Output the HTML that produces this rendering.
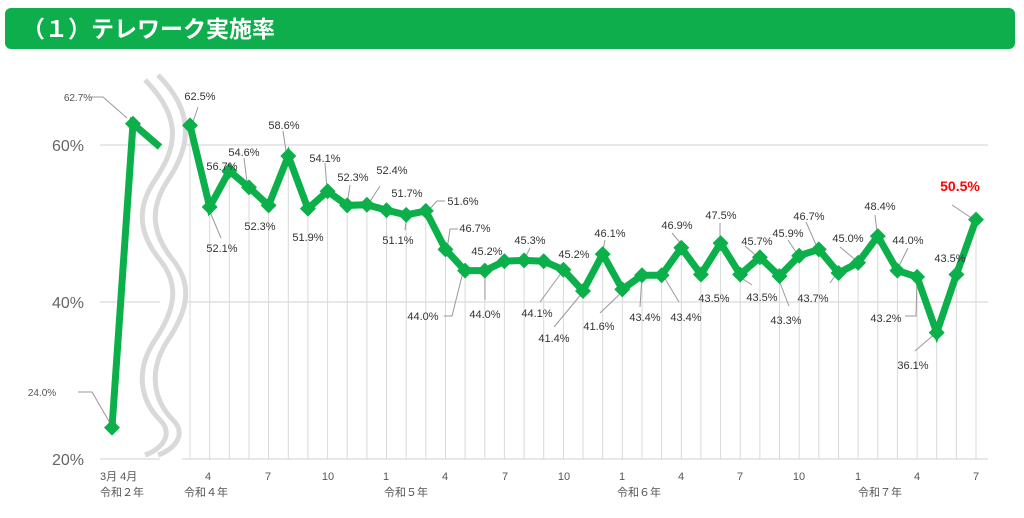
<!DOCTYPE html>
<html><head><meta charset="utf-8"><style>
body{margin:0;background:#fff;width:1024px;height:513px;overflow:hidden;font-family:"Liberation Sans","Noto Sans CJK JP",sans-serif}
</style></head><body>
<svg width="1024" height="513" xmlns="http://www.w3.org/2000/svg" font-family="Liberation Sans, Noto Sans CJK JP, sans-serif">
<defs><path id="dm" d="M0,-8 L8,0 L0,8 L-8,0Z" fill="#0cb04a"/></defs>
<rect x="5" y="8" width="1010" height="41" rx="6" fill="#0dae4b"/>
<text x="22" y="37" font-size="23" font-weight="bold" fill="#fff" font-family="Noto Sans CJK JP, sans-serif">（１）テレワーク実施率</text>
<g stroke="#d9d9d9" stroke-width="1.2">
<line x1="100" y1="145" x2="160" y2="145"/><line x1="100" y1="302" x2="160" y2="302"/><line x1="100" y1="459" x2="160" y2="459"/>
<line x1="182" y1="145" x2="988" y2="145"/><line x1="182" y1="302" x2="988" y2="302"/><line x1="182" y1="459" x2="988" y2="459"/>
</g>
<path stroke="#d9d9d9" stroke-width="1" fill="none" d="M190,125V459M209.7,207V459M229.3,171V459M249,187V459M268.6,205V459M288.3,156V459M307.9,209V459M327.6,191V459M347.2,205V459M366.9,205V459M386.5,210V459M406.2,215V459M425.8,211V459M445.5,249V459M465.1,271V459M484.8,271V459M504.4,261V459M524.1,260V459M543.7,261V459M563.4,270V459M583,291V459M602.7,254V459M622.3,289V459M642,275V459M661.6,275V459M681.3,248V459M700.9,274V459M720.6,243V459M740.2,274V459M759.9,257V459M779.5,276V459M799.2,256V459M818.8,249V459M838.5,273V459M858.1,263V459M877.8,236V459M897.4,271V459M917.1,277V459M936.7,333V459M956.4,274V459M976,220V459"/>
<g fill="none" stroke="#d9d9d9" stroke-width="5">
<path d="M145,80 C185,120 175,150 155,180 C135,210 140,235 160,260 C180,285 175,310 155,340 C135,370 140,400 160,420 C175,435 160,450 145,455"/>
<path d="M158,75 C198,115 188,150 168,180 C148,210 153,235 173,260 C193,285 188,310 168,340 C148,370 153,400 173,420 C188,435 173,450 158,455"/>
</g>
<g fill="#666" font-size="16" text-anchor="end">
<text x="84" y="151">60%</text><text x="84" y="308">40%</text><text x="84" y="465">20%</text>
</g>
<g fill="#555" font-size="11">
<text x="100" y="480">3月 4月</text><text x="100" y="496">令和２年</text>
<text x="208" y="480" text-anchor="middle">4</text><text x="268" y="480" text-anchor="middle">7</text>
<text x="328" y="480" text-anchor="middle">10</text><text x="386" y="480" text-anchor="middle">1</text>
<text x="445" y="480" text-anchor="middle">4</text><text x="505" y="480" text-anchor="middle">7</text>
<text x="564" y="480" text-anchor="middle">10</text><text x="622" y="480" text-anchor="middle">1</text>
<text x="681" y="480" text-anchor="middle">4</text><text x="740" y="480" text-anchor="middle">7</text>
<text x="799" y="480" text-anchor="middle">10</text><text x="858" y="480" text-anchor="middle">1</text>
<text x="917" y="480" text-anchor="middle">4</text><text x="976" y="480" text-anchor="middle">7</text>
<text x="184" y="496">令和４年</text><text x="384" y="496">令和５年</text><text x="617" y="496">令和６年</text><text x="858" y="496">令和７年</text>
</g>
<g stroke="#999" stroke-width="1" fill="none">
<path d="M90,97 H103 L127,118"/><path d="M78,392 H92 L110,423"/>
<path d="M198,107 L192,125"/><path d="M221,238 L210,212"/><path d="M222,172 L230,178"/><path d="M244,158 L248,190"/>
<path d="M283,131 L287,158"/><path d="M325,163 L327,190"/><path d="M350,185 L347,205"/><path d="M380,186 L367,206"/>
<path d="M405,230 L407,213"/><path d="M445,201 H437 L427,212"/><path d="M458,229 H450 L447,250"/>
<path d="M444,316 H452 L463,272"/><path d="M485,300 L485,272"/><path d="M530,248 L523,262"/><path d="M540,302 L562,272"/>
<path d="M554,327 L583,292"/><path d="M605,240 L602,255"/><path d="M600,313 L622,292"/><path d="M640,307 L642,276"/>
<path d="M679,302 L664,277"/><path d="M672,233 L682,245"/><path d="M720,223 L720,240"/><path d="M745,246 L759,258"/>
<path d="M752,285 L740,277"/><path d="M789,306 L780,283"/><path d="M788,240 L800,258"/><path d="M806,222 L817,247"/>
<path d="M830,283 L839,270"/><path d="M840,247 L858,262"/><path d="M875,215 L877,232"/><path d="M908,248 L897,270"/>
<path d="M905,316 H916 L917,280"/><path d="M915,351 L937,332"/><path d="M952,205 L976,221"/>
</g>
<g fill="none" stroke="#0cb04a" stroke-width="7">
<polyline points="112,427.6 133,123.8 160,147"/>
<polyline points="190,125.4 209.7,207 229.3,170.9 249,187.4 268.6,205.4 288.3,156 307.9,208.6 327.6,191.3 347.2,205.4 366.9,204.7 386.5,210.2 406.2,214.9 425.8,210.9 445.5,249.4 465.1,270.6 484.8,270.6 504.4,261.2 524.1,260.4 543.7,261.2 563.4,269.8 583,291 602.7,254.1 622.3,289.4 642,275.3 661.6,275.3 681.3,247.8 700.9,274.5 720.6,243.1 740.2,274.5 759.9,257.3 779.5,276.1 799.2,255.7 818.8,249.4 838.5,273 858.1,262.7 877.8,236.1 897.4,270.6 917.1,276.9 936.7,332.6 956.4,274.5 976,219.6"/>
</g>
<g>
<use href="#dm" x="112" y="427.6"/><use href="#dm" x="133" y="123.8"/>
<use href="#dm" x="190" y="125.4"/><use href="#dm" x="209.7" y="207"/><use href="#dm" x="229.3" y="170.9"/><use href="#dm" x="249" y="187.4"/><use href="#dm" x="268.6" y="205.4"/><use href="#dm" x="288.3" y="156"/><use href="#dm" x="307.9" y="208.6"/><use href="#dm" x="327.6" y="191.3"/><use href="#dm" x="347.2" y="205.4"/><use href="#dm" x="366.9" y="204.7"/><use href="#dm" x="386.5" y="210.2"/><use href="#dm" x="406.2" y="214.9"/><use href="#dm" x="425.8" y="210.9"/><use href="#dm" x="445.5" y="249.4"/><use href="#dm" x="465.1" y="270.6"/><use href="#dm" x="484.8" y="270.6"/><use href="#dm" x="504.4" y="261.2"/><use href="#dm" x="524.1" y="260.4"/><use href="#dm" x="543.7" y="261.2"/><use href="#dm" x="563.4" y="269.8"/><use href="#dm" x="583" y="291"/><use href="#dm" x="602.7" y="254.1"/><use href="#dm" x="622.3" y="289.4"/><use href="#dm" x="642" y="275.3"/><use href="#dm" x="661.6" y="275.3"/><use href="#dm" x="681.3" y="247.8"/><use href="#dm" x="700.9" y="274.5"/><use href="#dm" x="720.6" y="243.1"/><use href="#dm" x="740.2" y="274.5"/><use href="#dm" x="759.9" y="257.3"/><use href="#dm" x="779.5" y="276.1"/><use href="#dm" x="799.2" y="255.7"/><use href="#dm" x="818.8" y="249.4"/><use href="#dm" x="838.5" y="273"/><use href="#dm" x="858.1" y="262.7"/><use href="#dm" x="877.8" y="236.1"/><use href="#dm" x="897.4" y="270.6"/><use href="#dm" x="917.1" y="276.9"/><use href="#dm" x="936.7" y="332.6"/><use href="#dm" x="956.4" y="274.5"/><use href="#dm" x="976" y="219.6"/>
</g>
<g fill="#333" font-size="11" text-anchor="middle">
<text x="78" y="101" fill="#555" font-size="10">62.7%</text><text x="42" y="396" fill="#555" font-size="10">24.0%</text>
<text x="200" y="100">62.5%</text><text x="222" y="252">52.1%</text><text x="222" y="170">56.7%</text><text x="244" y="156">54.6%</text>
<text x="260" y="230">52.3%</text><text x="284" y="129">58.6%</text><text x="308" y="241">51.9%</text><text x="325" y="162">54.1%</text>
<text x="353" y="181">52.3%</text><text x="392" y="174">52.4%</text><text x="407" y="197">51.7%</text><text x="398" y="244">51.1%</text>
<text x="463" y="205">51.6%</text><text x="475" y="232">46.7%</text><text x="423" y="320">44.0%</text><text x="485" y="318">44.0%</text>
<text x="487" y="255">45.2%</text><text x="530" y="244">45.3%</text><text x="574" y="258">45.2%</text><text x="537" y="317">44.1%</text>
<text x="554" y="342">41.4%</text><text x="610" y="237">46.1%</text><text x="599" y="330">41.6%</text><text x="645" y="321">43.4%</text>
<text x="686" y="321">43.4%</text><text x="677" y="229">46.9%</text><text x="714" y="302">43.5%</text><text x="721" y="219">47.5%</text>
<text x="757" y="245">45.7%</text><text x="762" y="301">43.5%</text><text x="788" y="237">45.9%</text><text x="786" y="324">43.3%</text>
<text x="809" y="220">46.7%</text><text x="813" y="302">43.7%</text><text x="848" y="242">45.0%</text><text x="880" y="210">48.4%</text>
<text x="908" y="244">44.0%</text><text x="886" y="322">43.2%</text><text x="913" y="369">36.1%</text><text x="950" y="262">43.5%</text>
<text x="960" y="191" fill="#f00" font-size="14" font-weight="bold">50.5%</text>
</g>
</svg>
</body></html>
